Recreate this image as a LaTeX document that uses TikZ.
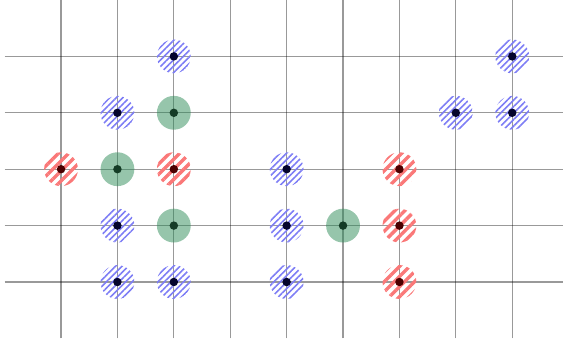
\documentclass[tikz,border=0pt]{standalone}
\usetikzlibrary{patterns.meta}
\definecolor{hblue}{RGB}{125,125,245}
\definecolor{hred}{RGB}{250,120,120}
\definecolor{dblue}{RGB}{5,5,45}
\definecolor{dred}{RGB}{75,0,0}
\definecolor{dgreen}{RGB}{20,60,38}
\definecolor{sgreen}{RGB}{46,139,87}
\begin{document}
\begin{tikzpicture}[
  gridline/.style={draw=black, draw opacity=0.4, line width=0.6pt},
  dotpt/.style={circle, inner sep=0pt, minimum size=0.15cm},
  ring/.style={circle, inner sep=0pt, minimum size=0.6cm},
  bluept/.style={ring, pattern={Lines[angle=45,distance=2.3pt,line width=0.8pt]}, pattern color=hblue},
  redpt/.style={ring, pattern={Lines[angle=45,distance=3.6pt,line width=1.7pt]}, pattern color=hred},
  greenpt/.style={ring, fill=sgreen, fill opacity=0.5}
]
\clip (-1.082,-1.082) rectangle (8.9,5.0);
\path[use as bounding box] (-1.082,-1.082) rectangle (8.9,5.0);
\foreach \x in {0,...,8} \draw[gridline] (\x,-1) -- (\x,5.2);
\foreach \y in {0,...,4} \draw[gridline] (-1,\y) -- (9.2,\y);
% blue
\foreach \n/\x/\y in {a/2/4, b/8/4, c/1/3, e/7/3, f/8/3, j/4/2, l/1/1, n/4/1, q/1/0, r/2/0, s/4/0}
  {\node[bluept] (c\n) at (\x,\y) {};
   \node[dotpt, fill=dblue] (d\n) at (c\n.center) {};}
% red
\foreach \n/\x/\y in {g/0/2, i/2/2, k/6/2, p/6/1, t/6/0}
  {\node[redpt] (c\n) at (\x,\y) {};
   \node[dotpt, fill=dred] (d\n) at (c\n.center) {};}
% green
\foreach \n/\x/\y in {d/2/3, h/1/2, m/2/1, o/5/1}
  {\node[greenpt] (c\n) at (\x,\y) {};
   \node[dotpt, fill=dgreen] (d\n) at (c\n.center) {};}
\end{tikzpicture}
\end{document}
